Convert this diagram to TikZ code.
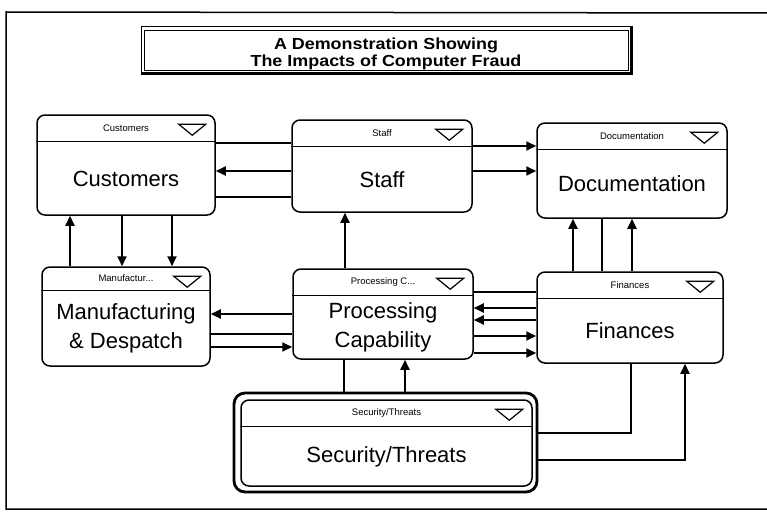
\documentclass[tikz,border=0pt]{standalone}
\usepackage{fontspec}
\setmainfont{Liberation Sans}
\newfontfamily\titlefont[FakeStretch=1.12]{Liberation Sans}
\usetikzlibrary{arrows.meta,calc}
\newcommand\mymodule[8]{%
  \node[modbox, minimum width=#4pt, minimum height=#5pt] (#1) at (#2,#3) {};
  \draw[hdrline] ([yshift=-#6pt]#1.north west) -- ([yshift=-#6pt]#1.north east);
  \draw[tri] ([xshift=-37pt,yshift=-10pt]#1.north east) -- ([xshift=-10pt,yshift=-10pt]#1.north east) -- ([xshift=-23.5pt,yshift=-21pt]#1.north east) -- cycle;
  \node[smalltxt] (#1-h) at ([yshift=-#6pt/2]#1.north) {#7};
  \node[bigtxt] (#1-t) at ($(#1.south)!0.5!([yshift=-#6pt]#1.north)$) {#8};
}
\begin{document}
\begin{tikzpicture}[x=1pt,y=-1pt,
  modbox/.style={draw, line width=1.5pt, rounded corners=8pt, inner sep=0pt},
  hdrline/.style={line width=1.3pt},
  tri/.style={draw, line width=1.2pt, line join=miter},
  conn/.style={line width=1.8pt},
  arr/.style={conn, -{Triangle[length=10pt,width=9pt]}},
  bigtxt/.style={font=\fontsize{22}{29.5}\selectfont, align=center, inner sep=0pt},
  smalltxt/.style={font=\fontsize{9.5}{11}\selectfont, inner sep=0pt}]
\useasboundingbox (0,0) rectangle (767,519);
\clip (0,0) rectangle (767,519);
% outer frame
\draw[line width=1.5pt] (780,13) -- (6,12) -- (6,509) -- (780,509);
% title
\node[draw, line width=1pt, minimum width=490pt, minimum height=46pt, inner sep=0pt] (titlebox) at (386,50) {};
\draw[line width=0.9pt] ([xshift=3.5pt,yshift=-3.5pt]titlebox.north west) rectangle ([xshift=-3.5pt,yshift=3.5pt]titlebox.south east);
\draw[line width=2.6pt] (titlebox.north east) -- (titlebox.south east) -- (titlebox.south west);
\node[align=center, font=\titlefont\bfseries\fontsize{16}{17.5}\selectfont] (title) at (386,54) {A Demonstration Showing\\The Impacts of Computer Fraud};
% modules
\mymodule{cust}{126}{165}{178}{100}{27}{Customers}{Customers}
\mymodule{staff}{382}{166}{180}{92}{27}{Staff}{Staff}
\mymodule{doc}{632}{170.5}{190}{95}{27}{Documentation}{Documentation}
\mymodule{manu}{126}{316.5}{168}{99}{24}{Manufactur...}{Manufacturing\\\& Despatch}
\mymodule{proc}{383}{314}{180}{90}{27}{Processing C...}{Processing\\Capability}
\mymodule{fin}{630}{317.5}{186}{91}{27}{Finances}{Finances}
\node[draw, line width=2.8pt, rounded corners=11pt, minimum width=303pt, minimum height=99pt, inner sep=0pt] (secout) at (385.5,442.5) {};
\mymodule{sec}{386.5}{443}{291}{86}{27}{Security/Threats}{Security/Threats}
% Customers - Staff
\draw[conn] (cust.east |- 0,143) -- (staff.west |- 0,143);
\draw[arr] (staff.west |- 0,171) -- (cust.east |- 0,171);
\draw[conn] (cust.east |- 0,197) -- (staff.west |- 0,197);
% Staff - Documentation
\draw[arr] (staff.east |- 0,146) -- (doc.west |- 0,146);
\draw[arr] (staff.east |- 0,171) -- (doc.west |- 0,171);
% Customers - Manufacturing
\draw[arr] (manu.north -| 70,0) -- (cust.south -| 70,0);
\draw[arr] (cust.south -| 122,0) -- (manu.north -| 122,0);
\draw[arr] (cust.south -| 172,0) -- (manu.north -| 172,0);
% Finances - Documentation
\draw[arr] (fin.north -| 573,0) -- (doc.south -| 573,0);
\draw[conn] (fin.north -| 602,0) -- (doc.south -| 602,0);
\draw[arr] (fin.north -| 632,0) -- (doc.south -| 632,0);
% Processing - Staff
\draw[arr] (proc.north -| 345,0) -- (staff.south -| 345,0);
% Processing - Manufacturing
\draw[arr] (proc.west |- 0,314) -- (manu.east |- 0,314);
\draw[conn] (proc.west |- 0,334) -- (manu.east |- 0,334);
\draw[arr] (manu.east |- 0,347) -- (proc.west |- 0,347);
% Processing - Finances
\draw[conn] (proc.east |- 0,292) -- (fin.west |- 0,292);
\draw[arr] (fin.west |- 0,308) -- (proc.east |- 0,308);
\draw[arr] (fin.west |- 0,320) -- (proc.east |- 0,320);
\draw[arr] (proc.east |- 0,336) -- (fin.west |- 0,336);
\draw[arr] (proc.east |- 0,353) -- (fin.west |- 0,353);
% Security
\draw[conn] (proc.south -| 344,0) -- (secout.north -| 344,0);
\draw[arr] (secout.north -| 405,0) -- (proc.south -| 405,0);
\draw[conn] (secout.east |- 0,433) -| (fin.south -| 631,0);
\draw[arr] (secout.east |- 0,460) -| (fin.south -| 685,0);
\end{tikzpicture}
\end{document}
